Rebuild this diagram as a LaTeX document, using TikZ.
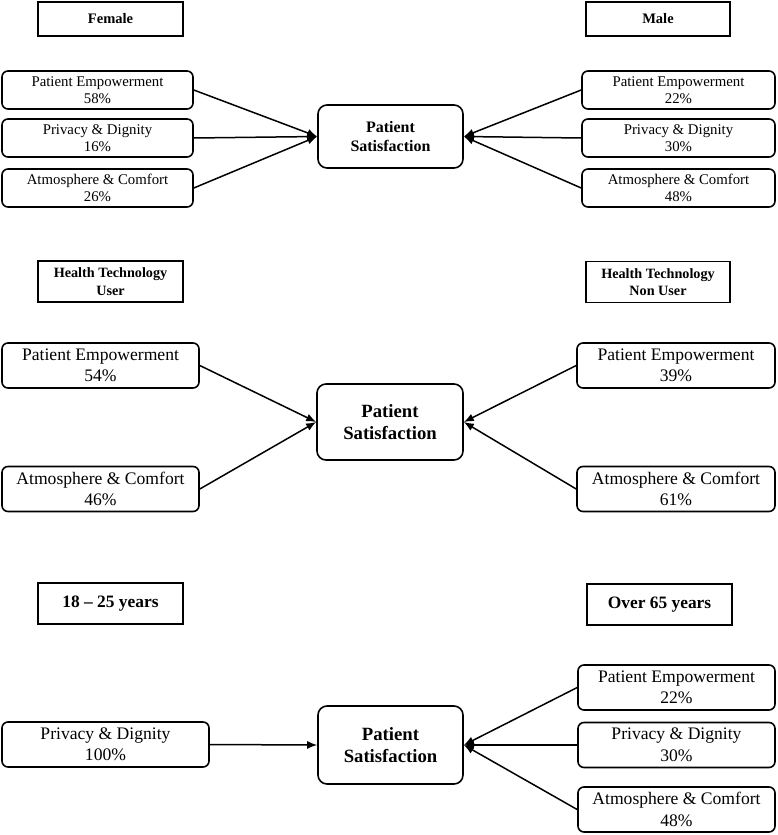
\documentclass[tikz,border=0pt]{standalone}
\usepackage{fontspec}
\setmainfont{Liberation Serif}
\usetikzlibrary{arrows.meta}
\tikzset{
  hdr/.style={draw, line width=1.4pt, font=\bfseries, align=center, inner sep=0pt},
  item/.style={draw, line width=1.6pt, rounded corners=6pt, align=center, inner sep=0pt},
  sat/.style={draw, line width=1.6pt, rounded corners=9pt, align=center, inner sep=0pt, font=\bfseries},
  fs/.style={font=\fontsize{14.8}{17.5}\selectfont},
  fm/.style={font=\fontsize{17.6}{21.5}\selectfont},
  conn/.style={line width=1.5pt, -{Latex[length=10pt,width=8pt]}},
}
\begin{document}
\begin{tikzpicture}[x=1pt,y=-1pt]
\useasboundingbox (0,0) rectangle (778,835);
% ---------- Section 1 ----------
\node[hdr, minimum width=145pt, minimum height=34pt, font=\bfseries\fontsize{14.5}{17}\selectfont] (fem) at (110.5,19) {Female};
\node[hdr, minimum width=144pt, minimum height=34pt, font=\bfseries\fontsize{14.5}{17}\selectfont] (male) at (658,19) {Male};
\node[item, fs, minimum width=191pt, minimum height=38pt] (l1a) at (97.5,90) {Patient Empowerment\\58\%};
\node[item, fs, minimum width=191pt, minimum height=38pt] (l1b) at (97.5,138) {Privacy \& Dignity\\16\%};
\node[item, fs, minimum width=191pt, minimum height=38pt] (l1c) at (97.5,188) {Atmosphere \& Comfort\\26\%};
\node[item, fs, minimum width=193pt, minimum height=38pt] (r1a) at (678.5,90) {Patient Empowerment\\22\%};
\node[item, fs, minimum width=193pt, minimum height=38pt] (r1b) at (678.5,138) {Privacy \& Dignity\\30\%};
\node[item, fs, minimum width=193pt, minimum height=38pt] (r1c) at (678.5,188) {Atmosphere \& Comfort\\48\%};
\node[sat, minimum width=145pt, minimum height=63pt, font=\bfseries\fontsize{16}{19}\selectfont] (c1) at (390.5,136.5) {Patient\\Satisfaction};
\foreach \n in {l1a,l1b,l1c} \draw[conn] (\n.east) -- (c1.west);
\foreach \n in {r1a,r1b,r1c} \draw[conn] (\n.west) -- (c1.east);
% ---------- Section 2 ----------
\node[hdr, minimum width=145pt, minimum height=41pt, font=\bfseries\fontsize{14.2}{17.5}\selectfont] (htu) at (110.5,281.5) {Health Technology\\User};
\node[hdr, minimum width=144pt, minimum height=41pt, font=\bfseries\fontsize{14.2}{17.5}\selectfont] (htn) at (658,282) {Health Technology\\Non User};
\node[item, fm, minimum width=197pt, minimum height=45pt] (l2a) at (100.5,365.5) {Patient Empowerment\\54\%};
\node[item, fm, minimum width=197pt, minimum height=45pt] (l2b) at (100.5,489) {Atmosphere \& Comfort\\46\%};
\node[item, fm, minimum width=198pt, minimum height=45pt] (r2a) at (676,365.5) {Patient Empowerment\\39\%};
\node[item, fm, minimum width=198pt, minimum height=45pt] (r2b) at (676,489) {Atmosphere \& Comfort\\61\%};
\node[sat, minimum width=146pt, minimum height=76pt, font=\bfseries\fontsize{18.7}{22.5}\selectfont] (c2) at (390,422) {Patient\\Satisfaction};
\foreach \n in {l2a,l2b} \draw[conn] (\n.east) -- (c2.west);
\foreach \n in {r2a,r2b} \draw[conn] (\n.west) -- (c2.east);
% ---------- Section 3 ----------
\node[hdr, minimum width=145pt, minimum height=41pt, font=\bfseries\fontsize{17.4}{21}\selectfont] (y18) at (110.5,603.5) {18 -- 25 years};
\node[hdr, minimum width=145pt, minimum height=41pt, font=\bfseries\fontsize{17.4}{21}\selectfont] (o65) at (659.5,604.5) {Over 65 years};
\node[item, fm, minimum width=207pt, minimum height=45pt] (l3) at (105.5,744.5) {Privacy \& Dignity\\100\%};
\node[item, fm, minimum width=197pt, minimum height=45pt] (r3a) at (676.5,687.5) {Patient Empowerment\\22\%};
\node[item, fm, minimum width=197pt, minimum height=45pt] (r3b) at (676.5,745) {Privacy \& Dignity\\30\%};
\node[item, fm, minimum width=197pt, minimum height=45pt] (r3c) at (676.5,809.5) {Atmosphere \& Comfort\\48\%};
\node[sat, minimum width=145pt, minimum height=78pt, font=\bfseries\fontsize{18.7}{22.5}\selectfont] (c3) at (390.5,745) {Patient\\Satisfaction};
\draw[conn] (l3.east) -- (c3.west);
\foreach \n in {r3a,r3b,r3c} \draw[conn] (\n.west) -- (c3.east);
\end{tikzpicture}
\end{document}
